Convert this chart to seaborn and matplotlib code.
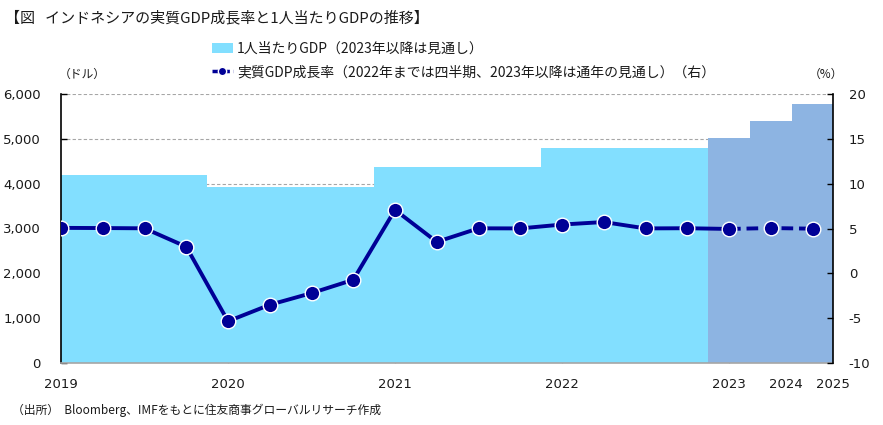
import numpy as np
import pandas as pd
import matplotlib
matplotlib.use("Agg")
import matplotlib.pyplot as plt
import seaborn as sns
from matplotlib.patches import Patch
from matplotlib.lines import Line2D

# ---- data ----
periods = ["2019Q1", "2019Q2", "2019Q3", "2019Q4",
           "2020Q1", "2020Q2", "2020Q3", "2020Q4",
           "2021Q1", "2021Q2", "2021Q3", "2021Q4",
           "2022Q1", "2022Q2", "2022Q3", "2022Q4",
           "2023", "2024", "2025"]
gdp_per_capita = [4190, 4190, 4190, 4190,
                  3930, 3930, 3930, 3930,
                  4360, 4360, 4360, 4360,
                  4800, 4800, 4800, 4800,
                  5010, 5400, 5780]
is_forecast = ["実績"] * 16 + ["見通し"] * 3
growth = [5.07, 5.05, 5.02, 2.97,
          -5.32, -3.49, -2.19, -0.71,
          7.07, 3.51, 5.02, 5.01,
          5.44, 5.72, 5.01, 5.03,
          4.95, 5.05, 4.98]
year_ticks = ["2019", "2020", "2021", "2022", "2023"]
year_tick_idx = [0, 4, 8, 12, 16]
extra_years = ["2024", "2025"]
left_ticks = [0, 1000, 2000, 3000, 4000, 5000, 6000]
right_ticks = [-10, -5, 0, 5, 10, 15, 20]

title = "【図   インドネシアの実質GDP成長率と1人当たりGDPの推移】"
bar_label = "1人当たりGDP（2023年以降は見通し）"
line_label = "実質GDP成長率（2022年までは四半期、2023年以降は通年の見通し）（右）"
left_unit = "（ドル）"
right_unit = "（%）"
source = "（出所）  Bloomberg、IMFをもとに住友商事グローバルリサーチ作成"

# ---- style ----
sns.set_theme(style="white")
plt.rcParams["font.family"] = ["Noto Sans CJK JP", "DejaVu Sans"]

c_light = "#82DFFF"
c_fore = "#8DB4E2"
c_line = "#000096"
c_grid = "#A6A6A6"
c_text = "#1a1a1a"
num_font = "DejaVu Sans"
num_size = 9.5

fig = plt.figure(figsize=(8.83, 4.25), dpi=100)
ax = fig.add_axes([61/883, 1-363.3/425, (833.4-61)/883, (363.3-93.7)/425])

df = pd.DataFrame({"idx": list(range(len(periods))), "gdp": gdp_per_capita,
                   "kind": is_forecast, "growth": growth})

ax.set_axisbelow(True)
for v in left_ticks[1:]:
    ax.axhline(v, color=c_grid, lw=0.8, ls=(0, (3, 2)), zorder=0)
sns.barplot(data=df, x="idx", y="gdp", hue="kind", dodge=False, width=1.0,
            palette={"実績": c_light, "見通し": c_fore}, saturation=1, linewidth=0,
            ax=ax, legend=False, zorder=1)
ax.set_xlim(0, 18.5)
ax.set_ylim(0, 6000)
ax.set_yticks(left_ticks)
ax.set_yticklabels([f"{v:,}" for v in left_ticks], family=num_font, fontsize=num_size)
ax.set_xticks(year_tick_idx)
ax.set_xticklabels(year_ticks, family=num_font, fontsize=num_size)
ax.set_xticks([17.35, 18.5], minor=True)
ax.set_xticklabels(extra_years, minor=True, family=num_font, fontsize=num_size)
ax.set_xlabel("")
ax.set_ylabel("")
ax.tick_params(axis="x", which="major", direction="in", length=4, color=c_grid,
               width=1, pad=10.5, bottom=True, labelcolor=c_text)
ax.tick_params(axis="x", which="minor", length=0, pad=10.5, labelcolor=c_text)
ax.tick_params(axis="y", direction="in", length=4, width=1, color="black",
               pad=14.5, left=True, labelcolor=c_text)
for s in ["top", "right"]:
    ax.spines[s].set_visible(False)
ax.spines["left"].set_color("black")
ax.spines["left"].set_linewidth(1.2)
ax.spines["bottom"].set_color(c_grid)
ax.spines["bottom"].set_linewidth(1.2)

ax2 = ax.twinx()
solid = df.iloc[:17]
dashed = df.iloc[16:]
sns.lineplot(data=solid, x="idx", y="growth", ax=ax2, color=c_line, lw=2.8, zorder=3)
sns.lineplot(data=dashed, x="idx", y="growth", ax=ax2, color=c_line, lw=2.8,
             ls=(0, (3, 1.5)), zorder=3)
sns.scatterplot(data=df, x="idx", y="growth", ax=ax2, color=c_line, s=110,
                edgecolor="white", linewidth=1, zorder=4)
ax2.set_xlim(0, 18.5)
ax2.set_ylim(-10, 20)
ax2.set_yticks(right_ticks)
ax2.set_yticklabels([str(v) for v in right_ticks], family=num_font, fontsize=num_size)
ax2.set_ylabel("")
ax2.set_xlabel("")
ax2.tick_params(axis="y", direction="in", length=4, width=1, color="black",
                pad=11, right=True, labelcolor=c_text)
for s in ["top", "left", "bottom"]:
    ax2.spines[s].set_visible(False)
ax2.spines["right"].set_color("black")
ax2.spines["right"].set_linewidth(1.2)

# texts
fig.text(5/883, 1-18/425, title, fontsize=10.8, va="center", ha="left", color=c_text)
fig.text(82/883, 1-74/425, left_unit, fontsize=8.5, va="center", ha="center", color=c_text)
fig.text(826/883, 1-74/425, right_unit, fontsize=8.5, va="center", ha="center", color=c_text)
fig.text(12/883, 1-410/425, source, fontsize=8.5, va="center", ha="left", color=c_text)

handles = [Patch(facecolor=c_light, edgecolor="none"),
           Line2D([0], [0], color=c_line, lw=2.5, ls=(0, (2, 1)), marker="o",
                  markersize=6, markerfacecolor=c_line, markeredgecolor="white")]
fig.legend(handles, [bar_label, line_label], loc="upper left",
           bbox_to_anchor=(205/883, 1-35/425), frameon=False, fontsize=10,
           handlelength=1.5, handletextpad=0.3, labelspacing=0.65, borderpad=0,
           labelcolor=c_text)

fig.savefig("out.png", dpi=100)
